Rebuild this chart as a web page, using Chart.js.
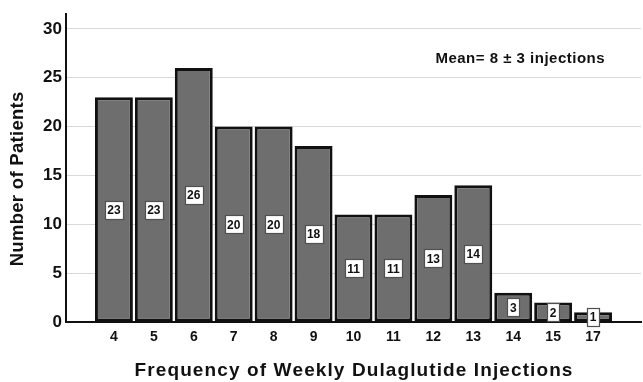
<!DOCTYPE html>
<html>
<head>
<meta charset="utf-8">
<script src="https://cdn.jsdelivr.net/npm/chart.js@4"></script>
<style>
html,body{margin:0;padding:0;background:#fff;}
#wrap{width:643px;height:382px;position:relative;}
</style>
</head>
<body>
<div id="wrap"><canvas id="c" width="643" height="382"></canvas></div>
<script>
const categories = ['4','5','6','7','8','9','10','11','12','13','14','15','17'];
const patients = [23,23,26,20,20,18,11,11,13,14,3,2,1];
const yTicks = [0,5,10,15,20,25,30];
const meanText = 'Mean= 8 \u00B1 3 injections';
const xTitle = 'Frequency of Weekly Dulaglutide Injections';
const yTitle = 'Number of Patients';

const FONT = "'Liberation Sans', Arial, sans-serif";

function spacedText(ctx, text, x, y, spacing) {
  let total = 0;
  const widths = [];
  for (const ch of text) { const w = ctx.measureText(ch).width; widths.push(w); total += w; }
  total += spacing * (widths.length - 1);
  let cx = x - total / 2;
  ctx.textAlign = 'left';
  let i = 0;
  for (const ch of text) { ctx.fillText(ch, cx, y); cx += widths[i++] + spacing; }
}

const labelPlugin = {
  id: 'valueBoxes',
  afterDatasetsDraw(chart) {
    const ctx = chart.ctx;
    const xs = chart.scales.x, ys = chart.scales.y;
    const area = chart.chartArea;
    ctx.save();
    ctx.font = 'bold 12px ' + FONT;
    ctx.textAlign = 'center';
    ctx.textBaseline = 'middle';
    patients.forEach((v, i) => {
      const cx = xs.getPixelForValue(i);
      const cy = ys.getPixelForValue(v / 2);
      const t = String(v);
      const w = Math.round(ctx.measureText(t).width + 5);
      const h = 18;
      const bx = Math.round(cx - w / 2) + 0.5, by = Math.round(cy - h / 2) + 0.5;
      ctx.fillStyle = '#ffffff';
      ctx.fillRect(bx, by, w, h);
      ctx.strokeStyle = '#505050';
      ctx.lineWidth = 1.2;
      ctx.strokeRect(bx, by, w, h);
      ctx.fillStyle = '#111';
      ctx.fillText(t, cx, cy + 1);
    });
    ctx.fillStyle = '#111';
    ctx.textBaseline = 'middle';
    // mean annotation
    ctx.font = 'bold 15px ' + FONT;
    spacedText(ctx, meanText, xs.getPixelForValue(10.17), ys.getPixelForValue(26.9), 0.5);
    // x title
    ctx.font = 'bold 19px ' + FONT;
    spacedText(ctx, xTitle, (area.left + area.right) / 2, 371, 1.1);
    // y title
    ctx.save();
    ctx.translate(18, 179);
    ctx.rotate(-Math.PI / 2);
    ctx.font = 'bold 18.5px ' + FONT;
    spacedText(ctx, yTitle, 0, 0, 0.3);
    ctx.restore();
    ctx.restore();
  }
};

new Chart(document.getElementById('c'), {
  type: 'bar',
  data: {
    datasets: [{
      data: patients.map((v, i) => ({x: i, y: v})),
      backgroundColor: '#6e6e6e',
      borderColor: '#111111',
      borderWidth: 3,
      borderSkipped: false,
      barPercentage: 0.95,
      categoryPercentage: 1.0
    }]
  },
  options: {
    responsive: false,
    animation: false,
    layout: {padding: {left: 0, right: 2, top: 12, bottom: 0}},
    plugins: {legend: {display: false}, tooltip: {enabled: false}},
    scales: {
      x: {
        type: 'linear',
        offset: false,
        min: -1.2,
        max: 13.2,
        afterBuildTicks(scale) {
          scale.ticks = categories.map((c, i) => ({value: i}));
        },
        afterFit(scale) { scale.height = 60; },
        ticks: {
          autoSkip: false,
          maxRotation: 0,
          padding: 7,
          color: '#111',
          font: {family: FONT, size: 14, weight: 'bold'},
          callback: (v) => categories[v] !== undefined ? categories[v] : ''
        },
        grid: {display: false, drawTicks: false},
        border: {display: true, color: '#111', width: 2},
        title: {display: false}
      },
      y: {
        min: 0,
        max: 31.5,
        afterBuildTicks(scale) {
          scale.ticks = yTicks.map(v => ({value: v}));
        },
        afterFit(scale) { scale.width = 66; },
        ticks: {
          padding: 4,
          color: '#111',
          font: {family: FONT, size: 17, weight: 'bold'}
        },
        grid: {color: '#d9d9d9', lineWidth: 1, drawTicks: false},
        border: {display: true, color: '#111', width: 2},
        title: {display: false}
      }
    }
  },
  plugins: [labelPlugin]
});
</script>
</body>
</html>
